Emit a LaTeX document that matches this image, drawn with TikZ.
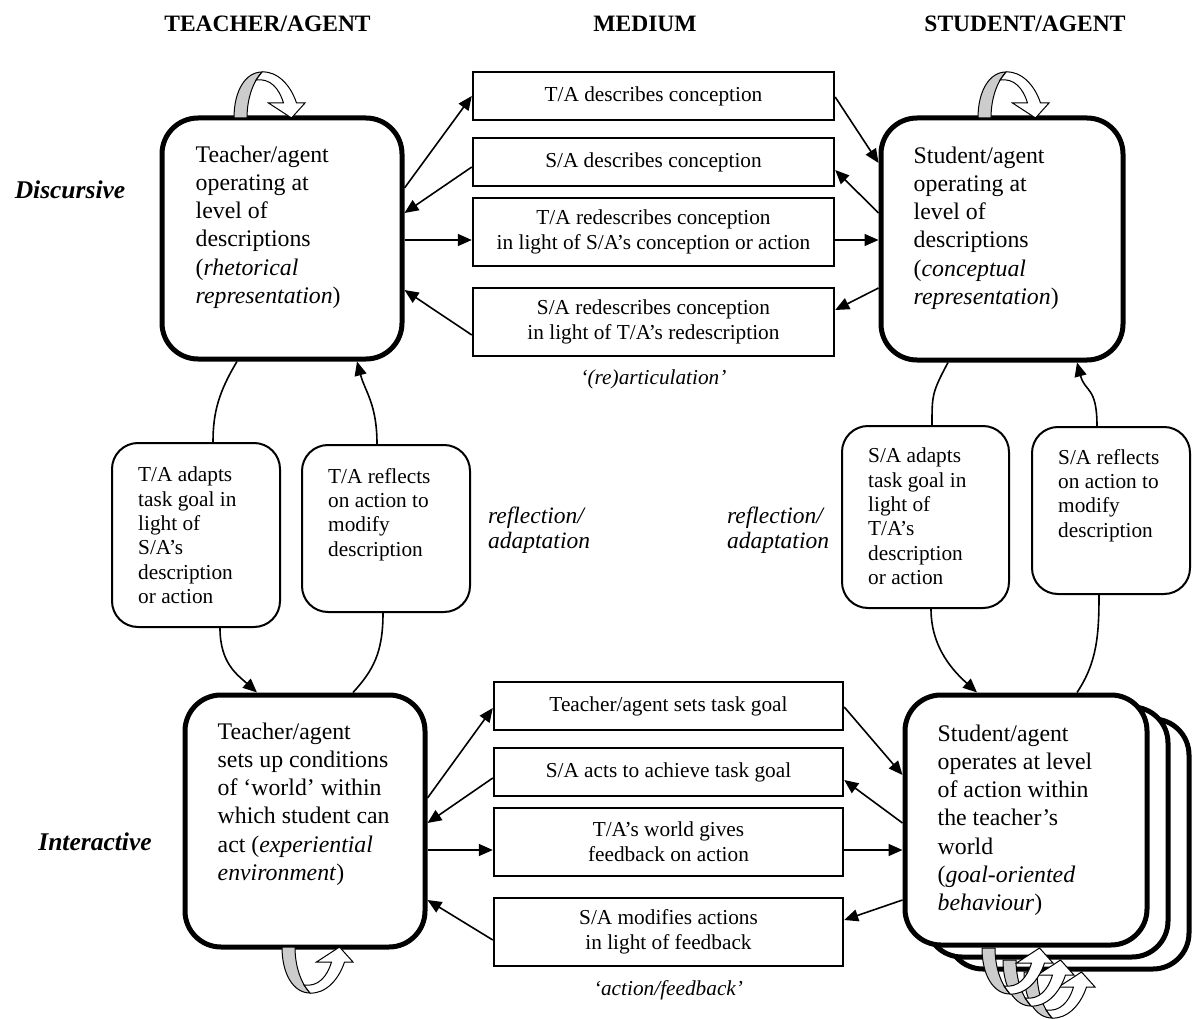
\documentclass[tikz,border=0pt]{standalone}
\usepackage{fontspec}
\setmainfont{Liberation Serif}
\usetikzlibrary{arrows.meta,calc}
\tikzset{
  bigbox/.style={draw, line width=5pt, rounded corners=36pt, fill=white, inner sep=0pt},
  medbox/.style={draw, line width=2.4pt, fill=white, minimum width=361pt, align=center, inner sep=0pt, font=\fontsize{21.3}{25}\selectfont},
  smallbox/.style={draw, line width=2pt, rounded corners=26pt, fill=white, inner sep=0pt},
  bigtext/.style={anchor=north west, align=left, inner sep=0pt, font=\fontsize{23.8}{28.2}\selectfont},
  smalltext/.style={anchor=north west, align=left, inner sep=0pt, font=\fontsize{21.3}{24.3}\selectfont},
  arrowline/.style={line width=1.6pt, -{Triangle[length=14pt,width=12pt]}},
  curveline/.style={line width=1.6pt},
  header/.style={font=\bfseries\fontsize{23.5}{28}\selectfont},
  sidelabel/.style={font=\bfseries\itshape\fontsize{25.5}{30}\selectfont},
  italabel/.style={align=left, inner sep=0pt, font=\itshape\fontsize{23.5}{25}\selectfont},
  medlabel/.style={font=\itshape\fontsize{21.3}{25}\selectfont},
  loopribbon/.pic={
    \draw[line width=1pt, fill=gray!40] (0,0) .. controls (0,-28) and (12,-46) .. (28,-46)
      .. controls (22,-40) and (13,-24) .. (13,0) -- cycle;
    \draw[line width=1pt, fill=white] (28,-46) .. controls (44,-47) and (57,-32) .. (62.5,-15)
      -- (71,-15) -- (57.5,0) -- (34.5,-15) -- (49.5,-15)
      .. controls (45,-30) and (36,-40) .. (22,-38) -- (28,-46) -- cycle;
  }
}
\begin{document}
\begin{tikzpicture}[x=1pt,y=-1pt]
\useasboundingbox (0,0) rectangle (1192,1019);
\clip (0,0) rectangle (1192,1019);

% headers and side labels
\node[header] (h1) at (267.5,24) {TEACHER/AGENT};
\node[header] (h2) at (645,24) {MEDIUM};
\node[header] (h3) at (1025,24) {STUDENT/AGENT};
\node[sidelabel] (disc) at (70,190) {Discursive};
\node[sidelabel] (inter) at (95,842) {Interactive};

% big boxes
\node[bigbox, minimum width=240pt, minimum height=241pt] (tl) at (282,238.5) {};
\node[bigbox, minimum width=242pt, minimum height=242pt] (tr) at (1002,239) {};
\node[bigbox, minimum width=240pt, minimum height=252pt] (bl) at (305,821) {};
\node[bigbox, minimum width=242pt, minimum height=250pt] (br3) at (1068,844) {};
\node[bigbox, minimum width=242pt, minimum height=250pt] (br2) at (1047,832) {};
\node[bigbox, minimum width=242pt, minimum height=250pt] (br) at (1026,820) {};

\node[bigtext] (tlt) at ([xshift=36pt,yshift=-30pt]tl.north west)
  {Teacher/agent\\operating at\\level of\\descriptions\\(\textit{rhetorical}\\\textit{representation})};
\node[bigtext] (trt) at ([xshift=35pt,yshift=-31pt]tr.north west)
  {Student/agent\\operating at\\level of\\descriptions\\(\textit{conceptual}\\\textit{representation})};
\node[bigtext] (blt) at ([xshift=35pt,yshift=-30pt]bl.north west)
  {Teacher/agent\\sets up conditions\\of ‘world’ within\\which student can\\act (\textit{experiential}\\\textit{environment})};
\node[bigtext] (brt) at ([xshift=35pt,yshift=-32pt]br.north west)
  {Student/agent\\operates at level\\of action within\\the teacher’s\\world\\(\textit{goal-oriented}\\\textit{behaviour})};

% medium boxes (top)
\node[medbox, minimum height=48pt] (m1) at (653.5,96) {T/A describes conception};
\node[medbox, minimum height=48pt] (m2) at (653.5,162) {S/A describes conception};
\node[medbox, minimum height=68pt] (m3) at (653.5,232) {T/A redescribes conception\\in light of S/A’s conception or action};
\node[medbox, minimum height=68pt] (m4) at (653.5,322) {S/A redescribes conception\\in light of T/A’s redescription};
\node[medlabel] (artic) at (653.5,379) {‘(re)articulation’};

% medium boxes (bottom)
\node[medbox, minimum width=349pt, minimum height=48pt] (m5) at (668.5,706) {Teacher/agent sets task goal};
\node[medbox, minimum width=349pt, minimum height=48pt] (m6) at (668.5,772) {S/A acts to achieve task goal};
\node[medbox, minimum width=349pt, minimum height=68pt] (m7) at (668.5,842) {T/A’s world gives\\feedback on action};
\node[medbox, minimum width=349pt, minimum height=68pt] (m8) at (668.5,932) {S/A modifies actions\\in light of feedback};
\node[medlabel] (actfb) at (668.5,990) {‘action/feedback’};

% small rounded boxes
\node[smallbox, minimum width=168pt, minimum height=184pt] (rb1) at (196,535) {};
\node[smallbox, minimum width=168pt, minimum height=167pt] (rb2) at (386,528.5) {};
\node[smallbox, minimum width=167pt, minimum height=182pt] (rb3) at (925.5,517) {};
\node[smallbox, minimum width=158pt, minimum height=167pt] (rb4) at (1111,510.5) {};
\node[smalltext] (rb1t) at ([xshift=27pt,yshift=-25pt]rb1.north west)
  {T/A adapts\\task goal in\\light of\\S/A’s\\description\\or action};
\node[smalltext] (rb2t) at ([xshift=27pt,yshift=-24pt]rb2.north west)
  {T/A reflects\\on action to\\modify\\description};
\node[smalltext] (rb3t) at ([xshift=27pt,yshift=-23pt]rb3.north west)
  {S/A adapts\\task goal in\\light of\\T/A’s\\description\\or action};
\node[smalltext] (rb4t) at ([xshift=27pt,yshift=-23pt]rb4.north west)
  {S/A reflects\\on action to\\modify\\description};

\node[italabel, anchor=north west] (refl1) at (488,507) {reflection/\\adaptation};
\node[italabel, anchor=north west] (refl2) at (727,507) {reflection/\\adaptation};

% top connectors
\draw[arrowline] ([yshift=50.5pt]tl.east) -- (m1.west);
\draw[arrowline] ([yshift=-5pt]m2.west) -- ([yshift=25.5pt]tl.east);
\draw[arrowline] ([yshift=-1.5pt]tl.east) -- ([yshift=-8pt]m3.west);
\draw[arrowline] ([yshift=-13pt]m4.west) -- ([yshift=-51.5pt]tl.east);
\draw[arrowline] ([yshift=-1pt]m1.east) -- ([yshift=76pt]tr.west);
\draw[arrowline] ([yshift=26pt]tr.west) -- ([yshift=-8pt]m2.east);
\draw[arrowline] ([yshift=-8pt]m3.east) -- ([yshift=-1pt]tr.west);
\draw[arrowline] ([yshift=-49pt]tr.west) -- ([yshift=12pt]m4.east);

% bottom connectors
\draw[arrowline] ([yshift=23pt]bl.east) -- ([yshift=-2pt]m5.west);
\draw[arrowline] ([yshift=-6pt]m6.west) -- ([yshift=-2pt]bl.east);
\draw[arrowline] ([yshift=-29pt]bl.east) -- ([yshift=-8pt]m7.west);
\draw[arrowline] ([yshift=-8pt]m8.west) -- ([yshift=-79pt]bl.east);
\draw[arrowline] ([yshift=-1pt]m5.east) -- ([yshift=45pt]br.west);
\draw[arrowline] ([yshift=-3pt]br.west) -- ([yshift=-8pt]m6.east);
\draw[arrowline] ([yshift=-8pt]m7.east) -- ([yshift=-30pt]br.west);
\draw[arrowline] ([yshift=-80pt]br.west) -- ([yshift=12pt]m8.east);

% reflection / adaptation curves, left
\draw[curveline] ([xshift=-45pt]tl.south) .. controls +(-18,30) and +(0,-30) .. ([xshift=17pt]rb1.north);
\draw[arrowline] ([xshift=24pt]rb1.south) .. controls +(0,35) and +(-20,-18) .. ([xshift=-48pt]bl.north);
\draw[arrowline] ([xshift=-9pt]rb2.north) .. controls +(0,-40) and +(8,30) .. ([xshift=75pt]tl.south);
\draw[curveline] ([xshift=48pt]bl.north) .. controls +(20,-22) and +(0,40) .. ([xshift=-3pt]rb2.south);

% reflection / adaptation curves, right
\draw[curveline] ([xshift=-54pt]tr.south) .. controls +(-16,30) and +(0,-30) .. ([xshift=6.5pt]rb3.north);
\draw[arrowline] ([xshift=5.5pt]rb3.south) .. controls +(0,40) and +(-22,-20) .. ([xshift=-49pt]br.north);
\draw[arrowline] ([xshift=-14pt]rb4.north) .. controls +(0,-40) and +(8,30) .. ([xshift=75pt]tr.south);
\draw[curveline] ([xshift=51pt]br.north) .. controls +(20,-30) and +(0,40) .. ([xshift=-12pt]rb4.south);

% loop ribbons
\pic at (234,118) {loopribbon};
\pic at (978,118) {loopribbon};
\pic[yscale=-1] at (282,947) {loopribbon};
\pic[yscale=-1] at (1024,972) {loopribbon};
\pic[yscale=-1] at (1003,960) {loopribbon};
\pic[yscale=-1] at (982,948) {loopribbon};
\end{tikzpicture}
\end{document}
